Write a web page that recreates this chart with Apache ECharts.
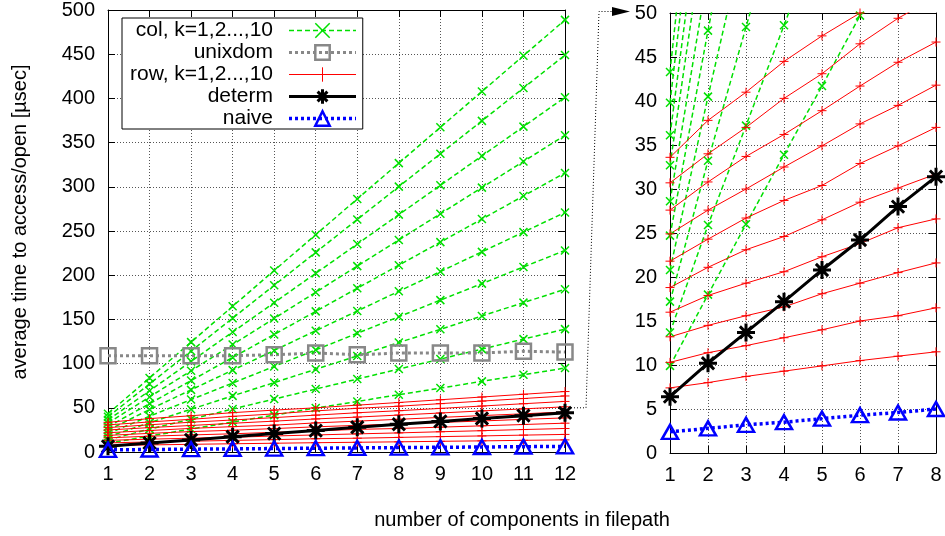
<!DOCTYPE html>
<html><head><meta charset="utf-8">
<script src="https://cdn.jsdelivr.net/npm/echarts@6/dist/echarts.min.js"></script>
<style>html,body{margin:0;padding:0;background:#fff}#c{width:945px;height:536px}</style>
</head><body><div id="c"></div>
<script>
// ---- data ----
const xValues = [1, 2, 3, 4, 5, 6, 7, 8, 9, 10, 11, 12];
const zoomCount = 8;            // the right panel shows x = 1..8
const zoomThreshold = 50;       // the right panel shows y = 0..50

const col1  = [9.9, 18.0, 26.0, 33.9, 41.7, 49.7, 57.2, 64.8, 72.3, 79.9, 87.4, 95.0];
const col2  = [13.7, 25.9, 37.2, 48.6, 59.9, 71.2, 82.5, 93.8, 105.1, 116.4, 127.7, 139.0];
const col3  = [17.2, 33.2, 48.4, 63.5, 78.5, 93.6, 108.7, 123.8, 138.8, 153.9, 169.0, 184.0];
const col4  = [20.8, 40.5, 59.3, 78.0, 96.8, 115.5, 134.3, 153.0, 171.8, 190.5, 209.3, 228.0];
const col5  = [24.7, 48.0, 70.3, 92.6, 114.9, 137.2, 159.5, 181.8, 204.1, 226.4, 248.7, 271.0];
const col6  = [28.6, 54.7, 80.8, 106.9, 133.0, 159.1, 185.2, 211.3, 237.4, 263.5, 289.6, 315.7];
const col7  = [32.7, 62.3, 91.9, 121.5, 151.1, 180.7, 210.3, 239.9, 269.5, 299.1, 328.7, 358.3];
const col8  = [36.1, 69.3, 102.5, 135.7, 168.9, 202.1, 235.3, 268.5, 301.7, 334.9, 368.1, 401.3];
const col9  = [39.8, 77.0, 114.2, 151.4, 188.6, 225.8, 263.0, 300.2, 337.4, 374.6, 411.8, 449.0];
const col10 = [43.3, 83.8, 124.3, 164.8, 205.3, 245.8, 286.3, 326.8, 367.3, 407.8, 448.3, 488.8];

const row1  = [7.4, 8.0, 8.7, 9.3, 9.9, 10.5, 11.0, 11.5, 12.1, 12.6, 13.2, 13.7];
const row2  = [10.3, 11.4, 12.2, 13.1, 14.0, 15.0, 15.6, 16.5, 17.4, 18.2, 19.1, 19.9];
const row3  = [13.2, 14.5, 15.6, 16.6, 18.1, 19.3, 20.5, 21.6, 22.9, 24.1, 25.4, 26.6];
const row4  = [16.0, 17.9, 19.3, 20.6, 22.3, 23.8, 25.6, 26.6, 28.1, 29.6, 31.1, 32.6];
const row5  = [18.8, 21.1, 23.1, 24.6, 26.5, 28.5, 30.1, 31.7, 33.4, 35.1, 36.9, 38.6];
const row6  = [21.8, 24.3, 26.7, 28.7, 30.4, 32.9, 34.9, 37.0, 39.1, 41.2, 43.2, 45.3];
const row7  = [24.9, 27.6, 30.0, 32.5, 34.9, 37.4, 39.5, 41.8, 44.1, 46.5, 48.8, 51.1];
const row8  = [27.6, 30.8, 33.7, 36.2, 38.9, 41.7, 44.4, 46.7, 49.3, 52.0, 54.6, 57.2];
const row9  = [30.7, 34.0, 37.0, 40.3, 43.1, 46.5, 49.4, 51.8, 54.7, 57.6, 60.5, 63.4];
const row10 = [33.6, 37.8, 41.0, 44.5, 47.4, 50.0, 53.0, 56.0, 59.1, 62.2, 65.3, 68.4];

const unixdom = [109, 109, 109, 109, 110, 112, 110, 112, 112, 112, 114, 113];
const determ  = [6.4, 10.2, 13.7, 17.2, 20.8, 24.2, 28.0, 31.4, 34.6, 37.9, 41.1, 44.3];
const naive   = [2.4, 2.8, 3.2, 3.5, 3.9, 4.3, 4.6, 5.0, 5.3, 5.7, 6.0, 6.4];

const colNames = ['col, k=1,2...,10', 'unixdom', 'row, k=1,2...,10', 'determ', 'naive'];
const yTitle = 'average time to access/open [µsec]';
const xTitle = 'number of components in filepath';

// ---- styles ----
const FONT = 'Liberation Sans';
const FS = 20;
const GREEN = '#00e000', RED = '#ff0000', GRAY = '#888888', BLACK = '#000000', BLUE = '#0000ff';
const X_SYM = 'path://M0,0L10,10M10,0L0,10';
const PLUS_SYM = 'path://M0,5L10,5M5,0L5,10';
const STAR_SYM = 'path://M0,5L10,5M5,0L5,10M1.6,1.6L8.4,8.4M8.4,1.6L1.6,8.4';

const styleCol = {symbol: X_SYM, symbolSize: 8,
  lineStyle: {color: GREEN, width: 1.5, type: [5, 3]},
  itemStyle: {color: 'transparent', borderColor: GREEN, borderWidth: 1.5}};
const styleUnix = {symbol: 'rect', symbolSize: 15,
  lineStyle: {color: GRAY, width: 3, type: [3, 3]},
  itemStyle: {color: 'transparent', borderColor: GRAY, borderWidth: 2.5}};
const styleRow = {symbol: PLUS_SYM, symbolSize: 9,
  lineStyle: {color: RED, width: 1, type: 'solid'},
  itemStyle: {color: 'transparent', borderColor: RED, borderWidth: 1}};
const styleDet = {symbol: STAR_SYM, symbolSize: 18,
  lineStyle: {color: BLACK, width: 3, type: 'solid'},
  itemStyle: {color: 'transparent', borderColor: BLACK, borderWidth: 3}};
const styleNaive = {symbol: 'triangle', symbolSize: [16, 14],
  lineStyle: {color: BLUE, width: 3.5, type: [3, 3]},
  itemStyle: {color: 'transparent', borderColor: BLUE, borderWidth: 2.5}};

function pairs(vals, n) {
  return vals.slice(0, n).map((v, i) => [xValues[i], v]);
}
function mk(name, vals, st, panel) {
  const n = panel === 0 ? xValues.length : zoomCount;
  const ax = panel === 0 ? 0 : 2;
  return Object.assign({
    type: 'line', name: name, xAxisIndex: ax, yAxisIndex: ax,
    data: pairs(vals, n), clip: true, showSymbol: true, animation: false,
    emphasis: {disabled: true}, silent: true
  }, JSON.parse(JSON.stringify(st)));
}

const cols = [col1, col2, col3, col4, col5, col6, col7, col8, col9, col10];
const rows = [row1, row2, row3, row4, row5, row6, row7, row8, row9, row10];

const series = [];
for (const panel of [0, 1]) {
  cols.forEach(c => series.push(mk(colNames[0], c, styleCol, panel)));
  series.push(mk(colNames[1], unixdom, styleUnix, panel));
  rows.forEach(r => series.push(mk(colNames[2], r, styleRow, panel)));
  series.push(mk(colNames[3], determ, styleDet, panel));
  series.push(mk(colNames[4], naive, styleNaive, panel));
}

const gridLine = {show: true, lineStyle: {color: '#555', width: 1, type: [1, 2]}};
const axLine = {show: true, onZero: false, lineStyle: {color: '#000', width: 1}};
const tick = {show: true, inside: true, length: 7, lineStyle: {color: '#000', width: 1}};
const lab = {show: true, color: '#000', fontFamily: FONT, fontSize: FS, margin: 12};

function xAx(grid, max, pos, labels) {
  return {type: 'value', gridIndex: grid, position: pos, min: 1, max: max, interval: 1,
    axisLine: axLine, axisTick: tick, splitLine: labels ? gridLine : {show: false},
    axisLabel: labels ? lab : {show: false}};
}
function yAx(grid, max, step, pos, labels) {
  return {type: 'value', gridIndex: grid, position: pos, min: 0, max: max, interval: step,
    axisLine: axLine, axisTick: tick, splitLine: labels ? gridLine : {show: false},
    axisLabel: labels ? Object.assign({}, lab, {margin: 13}) : {show: false}};
}

const legendData = [
  {name: colNames[0], itemStyle: styleCol.itemStyle, lineStyle: styleCol.lineStyle},
  {name: colNames[1], itemStyle: styleUnix.itemStyle, lineStyle: styleUnix.lineStyle},
  {name: colNames[2], itemStyle: styleRow.itemStyle, lineStyle: styleRow.lineStyle},
  {name: colNames[3], itemStyle: styleDet.itemStyle, lineStyle: styleDet.lineStyle},
  {name: colNames[4], itemStyle: styleNaive.itemStyle, lineStyle: styleNaive.lineStyle}
];

const option = {
  animation: false,
  backgroundColor: '#fff',
  grid: [
    {left: 108, top: 10, width: 457, height: 442, containLabel: false},
    {left: 670, top: 13, width: 266, height: 440, containLabel: false}
  ],
  xAxis: [xAx(0, 12, 'bottom', true), xAx(0, 12, 'top', false),
          xAx(1, zoomCount, 'bottom', true), xAx(1, zoomCount, 'top', false)],
  yAxis: [yAx(0, 500, 50, 'left', true), yAx(0, 500, 50, 'right', false),
          yAx(1, zoomThreshold, 5, 'left', true), yAx(1, zoomThreshold, 5, 'right', false)],
  legend: {
    data: legendData, orient: 'vertical', align: 'right', left: 122, top: 18,
    itemWidth: 67, itemHeight: 18, itemGap: 1, padding: [2, 5, 0, 8],
    backgroundColor: '#fff', borderColor: '#000', borderWidth: 1, borderRadius: 0,
    selectedMode: false,
    textStyle: {fontFamily: FONT, fontSize: 21, color: '#000', padding: [0, 11, 0, 0]}
  },
  series: series
};

const chart = echarts.init(document.getElementById('c'), null, {renderer: 'canvas'});
chart.setOption(option);

const p1 = chart.convertToPixel({xAxisIndex: 0, yAxisIndex: 0}, [xValues[11], zoomThreshold]);
const q = chart.convertToPixel({xAxisIndex: 2, yAxisIndex: 2}, [1, zoomThreshold]);
const ay = q[1] - 1.5;
chart.setOption({
  graphic: [
    {type: 'polyline', silent: true, z: 10,
     shape: {points: [[p1[0], p1[1]], [p1[0] + 21, p1[1]], [p1[0] + 34, ay], [q[0] - 56, ay]]},
     style: {stroke: '#000', lineWidth: 1, lineDash: [1, 2], fill: null}},
    {type: 'polygon', silent: true, z: 10,
     shape: {points: [[q[0] - 58, ay - 4.5], [q[0] - 40, ay], [q[0] - 58, ay + 4.5]]},
     style: {fill: '#000'}},
    {type: 'text', silent: true, x: 20, y: 222, rotation: Math.PI / 2,
     style: {text: yTitle, fontFamily: FONT, fontSize: FS, fill: '#000', align: 'center', verticalAlign: 'middle'}},
    {type: 'text', silent: true, x: 522, y: 520,
     style: {text: xTitle, fontFamily: FONT, fontSize: FS, fill: '#000', align: 'center', verticalAlign: 'middle'}}
  ]
});
</script>
</body></html>
